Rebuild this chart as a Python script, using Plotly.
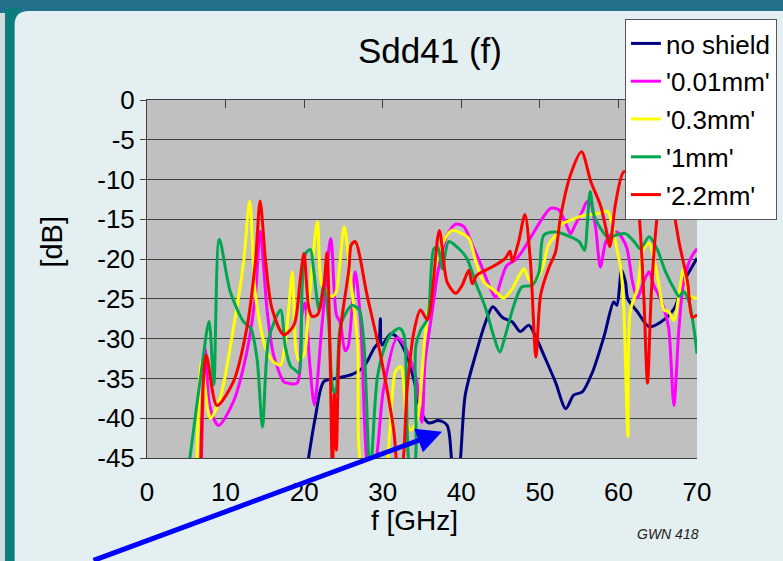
import plotly.graph_objects as go

# ---- data: Sdd41 magnitude [dB] vs frequency [GHz] ----
f_none = [20.1, 21.4, 22.5, 24.0, 26.1, 27.6, 28.9, 29.5, 29.7, 29.9, 31.0, 31.8, 33.1, 34.0,
          35.0, 35.9, 37.1, 38.2, 38.8, 39.3, 39.8, 40.5, 41.8, 43.1, 44.0, 45.2, 46.5, 47.5,
          48.6, 49.4, 50.7, 52.0, 53.3, 54.3, 55.4, 56.7, 58.2, 59.4, 59.8, 60.4, 60.9, 61.2,
          62.4, 63.9, 65.4, 67.1, 68.3, 70.0]
db_none = [-48.0, -40.0, -35.4, -35.0, -34.5, -33.5, -31.2, -30.4, -27.5, -30.8, -29.4, -29.8,
           -32.2, -35.3, -39.5, -40.6, -40.3, -40.9, -45.5, -48.0, -46.0, -37.1, -32.1, -27.9,
           -26.0, -27.3, -27.9, -29.1, -28.3, -29.6, -32.5, -35.5, -38.8, -37.1, -36.7, -34.2,
           -29.6, -25.4, -25.8, -21.4, -22.9, -25.0, -26.6, -28.5, -27.9, -26.2, -22.9, -19.9]

f_001 = [6.9, 7.4, 8.0, 9.1, 11.0, 12.7, 13.8, 14.4, 15.3, 16.1, 17.4, 18.0, 19.1, 19.7, 20.1,
         20.7, 21.3, 22.3, 23.4, 24.1, 24.6, 25.2, 25.6, 26.5, 27.2, 28.3, 29.0, 30.1, 31.8,
         32.6, 33.4, 34.3, 35.0, 35.4, 36.3, 37.1, 38.2, 39.3, 40.3, 41.4, 42.7, 43.7, 44.4,
         44.8, 45.8, 46.9, 47.7, 49.0, 50.3, 51.4, 52.4, 53.3, 53.9, 54.5, 55.4, 56.0, 56.4,
         57.1, 57.7, 58.4, 59.0, 59.8, 60.5, 61.1, 61.8, 62.4, 63.2, 63.9, 64.5, 65.1, 65.8,
         66.4, 67.06, 67.7, 68.3, 69.2, 70.0]
db_001 = [-47.0, -31.2, -38.5, -40.9, -37.9, -31.7, -24.5, -16.5, -26.6, -32.0, -35.4, -35.6,
          -35.6, -27.0, -25.5, -33.0, -38.3, -28.0, -17.4, -27.0, -28.0, -31.5, -31.0, -21.6,
          -28.0, -47.0, -46.0, -36.4, -29.9, -30.6, -32.3, -35.2, -40.5, -32.9, -26.6, -21.2,
          -17.0, -15.6, -15.9, -18.2, -21.2, -23.7, -24.9, -23.5, -20.8, -20.1, -19.1, -17.0,
          -14.9, -13.6, -13.8, -15.5, -16.8, -15.7, -14.0, -12.8, -12.8, -16.1, -21.0, -17.8,
          -17.0, -16.6, -17.4, -18.7, -22.9, -24.9, -22.9, -21.6, -23.3, -24.5, -26.2, -28.7,
          -38.4, -28.7, -22.9, -19.9, -18.7]

f_03 = [6.3, 6.95, 8.06, 9.3, 11.0, 12.3, 13.07, 13.8, 15.1, 16.1, 17.0, 17.8, 18.5, 18.9, 19.3,
        20.0, 20.6, 21.7, 22.3, 23.6, 24.1, 25.1, 25.9, 26.8, 27.6, 29.9, 31.6, 32.3, 33.1,
        33.6, 34.4, 34.8, 35.4, 36.3, 37.1, 38.2, 38.8, 40.1, 40.96, 42.0, 42.9, 44.4, 45.4,
        46.5, 47.3, 48.0, 48.6, 49.2, 50.3, 51.1, 52.0, 52.6, 53.9, 55.6, 57.3, 58.6, 59.2,
        59.8, 60.3, 60.7, 61.2, 61.5, 62.4, 63.2, 63.9, 64.5, 65.1, 65.8, 66.4, 67.06, 67.7,
        68.3, 69.0, 70.0]
db_03 = [-47.0, -32.9, -40.0, -37.5, -28.7, -20.3, -12.7, -24.5, -31.2, -32.9, -33.3, -28.7,
         -21.6, -30.8, -32.7, -32.0, -25.5, -15.3, -23.4, -24.7, -24.0, -15.9, -22.5, -30.5,
         -47.0, -48.0, -34.2, -33.5, -40.6, -41.5, -40.2, -37.1, -29.6, -22.9, -19.5, -17.0,
         -16.4, -16.8, -17.4, -20.8, -22.9, -24.1, -24.9, -23.7, -22.2, -21.2, -22.6, -22.9,
         -21.2, -18.2, -17.0, -15.7, -15.1, -14.5, -14.3, -14.0, -15.7, -18.7, -21.2, -26.6,
         -42.3, -26.6, -23.7, -18.7, -18.0, -19.9, -22.9, -26.4, -26.6, -27.7, -24.5, -21.2,
         -24.5, -25.0]

f_1 = [5.2, 6.8, 7.9, 8.5, 9.2, 10.6, 12.3, 13.2, 14.0, 14.7, 15.5, 17.0, 17.6, 18.3, 18.7,
       19.3, 19.75, 20.2, 20.8, 21.2, 21.9, 22.5, 23.1, 23.6, 24.0, 24.6, 25.3, 26.1, 27.0,
       27.6, 28.4, 29.3, 30.2, 31.0, 32.1, 32.7, 33.5, 34.0, 34.2, 34.8, 35.7, 36.5, 37.0,
       37.6, 38.4, 39.7, 40.7, 41.8, 43.1, 44.1, 44.9, 45.6, 46.7, 47.7, 49.0, 49.9, 50.5,
       52.0, 53.9, 55.0, 55.7, 56.0, 56.4, 56.9, 57.7, 58.8, 59.6, 60.9, 62.0, 62.8, 63.9,
       64.9, 66.0, 67.06, 67.7, 68.3, 69.0, 69.6, 70.0]
db_1 = [-47.0, -35.0, -27.8, -35.8, -17.5, -24.1, -27.9, -28.7, -32.5, -41.1, -30.0, -26.4,
        -31.0, -33.5, -33.8, -34.3, -23.4, -19.3, -18.8, -21.3, -26.4, -23.3, -27.6, -36.0,
        -36.9, -28.5, -26.8, -25.8, -26.4, -30.5, -47.0, -35.0, -31.2, -29.5, -28.7, -29.5,
        -46.0, -46.0, -31.0, -29.0, -27.5, -18.7, -18.5, -21.2, -17.8, -18.7, -19.9, -22.9,
        -26.2, -29.6, -31.7, -29.6, -25.8, -23.5, -23.3, -21.6, -17.0, -16.6, -17.2, -17.8,
        -18.9, -16.1, -11.5, -14.5, -16.1, -17.4, -17.0, -16.8, -17.8, -18.7, -17.2, -18.7,
        -21.6, -23.7, -24.7, -24.1, -25.4, -28.7, -31.9]

f_22 = [6.8, 7.55, 8.9, 11.0, 12.7, 13.8, 14.4, 15.1, 15.9, 17.4, 18.7, 19.5, 19.97, 20.6, 21.0,
        21.7, 22.5, 22.9, 23.3, 23.6, 23.85, 24.1, 24.5, 25.0, 25.7, 26.0, 26.5, 28.0, 29.7,
        31.4, 32.0, 32.5, 33.1, 34.0, 34.8, 35.7, 37.2, 38.2, 39.3, 40.1, 40.96, 41.4, 42.0,
        43.9, 45.6, 46.2, 46.5, 47.3, 48.1, 48.8, 49.5, 50.1, 51.1, 52.0, 52.6, 53.9, 55.3,
        56.5, 57.7, 58.4, 58.9, 59.6, 60.7, 61.8, 62.5, 63.2, 63.7, 64.2, 65.0, 66.0, 67.06,
        67.7, 68.8, 69.4, 70.0]
db_22 = [-47.0, -32.1, -38.4, -35.4, -28.7, -20.3, -12.7, -20.3, -26.2, -29.5, -28.3, -22.6,
         -19.3, -26.2, -27.2, -27.0, -23.4, -19.2, -32.0, -47.0, -37.0, -44.0, -30.0, -26.0,
         -21.3, -18.2, -17.8, -24.5, -32.0, -41.5, -47.0, -46.0, -36.4, -29.0, -26.4, -27.6,
         -16.4, -22.9, -24.3, -23.3, -21.4, -23.1, -22.0, -21.0, -19.9, -19.0, -20.3, -17.8,
         -14.4, -20.3, -32.3, -24.5, -21.2, -19.1, -14.9, -9.4, -6.5, -10.3, -13.2, -16.1,
         -18.4, -13.2, -9.0, -9.5, -13.0, -24.0, -35.6, -24.0, -14.1, -9.0, -14.1, -17.8,
         -22.9, -27.3, -27.0]

series_names = ["no shield", "'0.01mm'", "'0.3mm'", "'1mm'", "'2.2mm'"]
series_f = [f_none, f_001, f_03, f_1, f_22]
series_db = [db_none, db_001, db_03, db_1, db_22]
series_colors = ["#000080", "#FF00FF", "#FFFF00", "#00A650", "#FF0000"]

x_ticks = [0, 10, 20, 30, 40, 50, 60, 70]
y_ticks = [0, -5, -10, -15, -20, -25, -30, -35, -40, -45]
y_ticktext = ["0", "-5", "-10", "-15", "-20", "-25", "-30", "-35", "-40", "-45"]

# ---- canvas geometry (pixels) ----
W, H = 783, 561
L, R, T, B = 146.5, 697.0, 100.0, 458.0
PW, PH = R - L, B - T


def px(x):
    return (x - L) / PW


def py(y):
    return (B - y) / PH


FONT = "Liberation Sans, Arial, sans-serif"

fig = go.Figure()

for name, fx, dy, col in zip(series_names, series_f, series_db, series_colors):
    fig.add_trace(go.Scatter(
        x=fx, y=dy, name=name, mode="lines",
        line=dict(color=col, width=3, shape="spline", smoothing=0.8),
        legendgroup=name,
    ))

# empty trace that carries the top axis (axis line with inside ticks)
fig.add_trace(go.Scatter(x=[], y=[], xaxis="x2", showlegend=False, hoverinfo="skip"))

# ---- slide frame: steel band, teal edges, light panel, grey plot area ----
r = 14
x0, y0, x1, y1 = 14, 11, 800, 580
panel_path = (
    f"M {px(x0)},{py(y0 + r)} Q {px(x0)},{py(y0)} {px(x0 + r)},{py(y0)} "
    f"L {px(x1)},{py(y0)} L {px(x1)},{py(y1)} L {px(x0)},{py(y1)} Z"
)
shapes = [
    dict(type="rect", xref="paper", yref="paper", x0=px(-10), x1=px(4.5), y0=py(13), y1=py(600),
         fillcolor="#D3DCDC", line=dict(width=0), layer="below"),
    dict(type="rect", xref="paper", yref="paper", x0=px(4.5), x1=px(20), y0=py(8), y1=py(600),
         fillcolor="#0C7C7E", line=dict(width=0), layer="below"),
    dict(type="path", xref="paper", yref="paper", path=panel_path,
         fillcolor="#E3EFF0", line=dict(width=0), layer="below"),
    dict(type="rect", xref="paper", yref="paper", x0=0, x1=1, y0=0, y1=1,
         fillcolor="#C0C0C0", line=dict(width=0), layer="below"),
]


def label(text, x, y, size, **kw):
    return dict(text=text, x=px(x), y=py(y), xref="paper", yref="paper", showarrow=False,
                xanchor="center", yanchor="middle",
                font=dict(family=FONT, size=size, color=kw.pop("color", "#000000")), **kw)


annotations = [
    label("Sdd41 (f)", 430, 50, 35),
    label("f [GHz]", 414, 520, 28),
    label("[dB]", 51, 242, 29, textangle=-90),
    label("<i>GWN 418</i>", 668, 534, 14, color="#222222"),
    # pointer arrow to the no-shield dip near 38 GHz
    dict(text="", x=37.55, y=-41.7, xref="x", yref="y", showarrow=True,
         ax=-350, ay=133, arrowhead=2, arrowsize=1.0, arrowwidth=5,
         arrowcolor="#0000FF", standoff=0),
]

fig.update_layout(
    width=W, height=H,
    margin=dict(l=L, r=W - R, t=T, b=H - B, pad=0, autoexpand=False),
    paper_bgcolor="#23708A",
    plot_bgcolor="#C0C0C0",
    font=dict(family=FONT, color="#000000"),
    showlegend=True,
    legend=dict(
        x=px(777), y=py(19), xanchor="right", yanchor="top",
        bgcolor="#FFFFFF", bordercolor="#555555", borderwidth=1,
        font=dict(family=FONT, size=26, color="#000000"),
        tracegroupgap=1, itemwidth=30,
    ),
    xaxis=dict(
        range=[0, 70], tickvals=x_ticks, ticks="outside", ticklen=11,
        tickcolor="rgba(0,0,0,0)", showgrid=False, zeroline=False, automargin=False,
        showline=True, linecolor="#404040", linewidth=1,
        tickfont=dict(family=FONT, size=26, color="#000000"),
    ),
    xaxis2=dict(
        range=[0, 70], overlaying="x", side="top", anchor="y", tickvals=x_ticks,
        ticks="inside", ticklen=8, tickcolor="#404040", showticklabels=False,
        showgrid=False, zeroline=False, showline=True, linecolor="#404040", linewidth=1,
        automargin=False,
    ),
    yaxis=dict(
        range=[-45, 0], tickvals=y_ticks, ticktext=y_ticktext, ticks="outside", ticklen=6,
        tickcolor="#404040", showline=True, linecolor="#404040", linewidth=1,
        showgrid=True, gridcolor="#404040", gridwidth=1, zeroline=False, automargin=False,
        tickfont=dict(family=FONT, size=26, color="#000000"),
    ),
    shapes=shapes,
    annotations=annotations,
)

fig.write_html("out.html")
